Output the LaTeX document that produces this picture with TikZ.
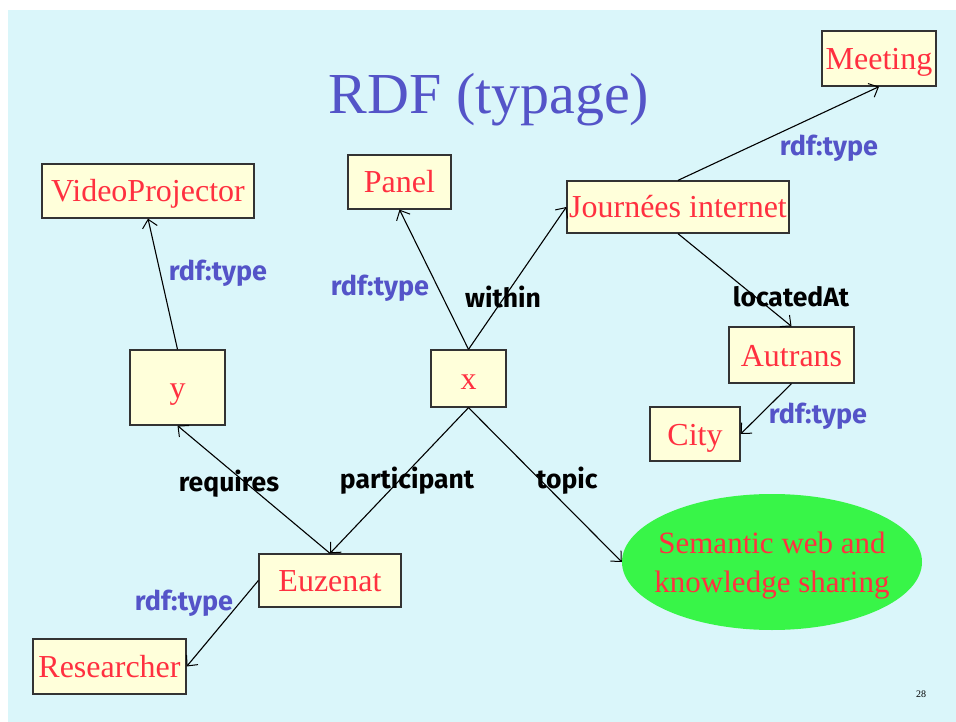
\documentclass[tikz,border=0pt]{standalone}
\usepackage{fontspec}
\setmainfont{Liberation Serif}
\newfontfamily\lblfont{Fira Sans}
\usetikzlibrary{arrows.meta,shapes.geometric}
\definecolor{slidebg}{RGB}{218,246,250}
\definecolor{boxfill}{RGB}{255,255,218}
\definecolor{boxtext}{RGB}{255,48,64}
\definecolor{titleblue}{RGB}{84,84,200}
\definecolor{ellgreen}{RGB}{56,245,72}
\tikzset{
  x=1pt, y=-1pt,
  res/.style={draw=black!80, line width=1.3pt, fill=boxfill, text=boxtext,
    font=\fontsize{32}{36}\selectfont, inner sep=0pt, anchor=center,
    text height=24pt, text depth=2pt},
  arr/.style={line width=1.1pt, -{Straight Barb[length=8pt,width=15pt,line width=1pt]}},
  typelbl/.style={text=titleblue, font=\lblfont\bfseries\fontsize{27}{30}\selectfont, inner sep=0pt},
  proplbl/.style={text=black, font=\lblfont\bfseries\fontsize{26.5}{30}\selectfont, inner sep=0pt},
}
\begin{document}
\begin{tikzpicture}
\useasboundingbox (0,0) rectangle (956,722);
\fill[white] (0,0) rectangle (956,722);
\fill[slidebg] (8,10) rectangle (956,722);

% title
\node[text=titleblue, font=\fontsize{58}{64}\selectfont] (title) at (489,100) {RDF (typage)};

% resource boxes
\node[res, minimum width=114pt, minimum height=55pt] (meet) at (879,58.5) {Meeting};
\node[res, minimum width=212pt, minimum height=54pt] (vp) at (148,191) {VideoProjector};
\node[res, minimum width=103pt, minimum height=54pt] (panel) at (399.5,182) {Panel};
\node[res, minimum width=222pt, minimum height=52pt] (jour) at (678,207) {Journées internet};
\node[res, minimum width=95pt, minimum height=75pt] (y) at (177.5,387.5) {y};
\node[res, minimum width=75pt, minimum height=57pt] (x) at (468.5,378.5) {x};
\node[res, minimum width=125pt, minimum height=56pt] (aut) at (791.5,355) {Autrans};
\node[res, minimum width=90pt, minimum height=54pt] (city) at (695,434) {City};
\node[res, minimum width=142pt, minimum height=53pt] (euz) at (330,580.5) {Euzenat};
\node[res, minimum width=153pt, minimum height=55pt] (resr) at (109.5,666.5) {Researcher};

% topic ellipse and its two-line text
\node[ellipse, fill=ellgreen, minimum width=300pt, minimum height=136pt,
  inner sep=0pt] (topic) at (772,562) {};
\node[text=boxtext, align=center, inner sep=0pt, font=\fontsize{31}{39}\selectfont]
  (topictext) at (772,566) {Semantic web and\\knowledge sharing};

% connectors
\draw[arr] (y.north) -- (vp.south);
\draw[arr] (x.north) -- (panel.south);
\draw[arr] (x.north) -- (jour.west);
\draw[arr] (jour.north) -- (meet.south);
\draw[arr] (jour.south) -- (aut.north);
\draw[arr] (aut.south) -- (city.east);
\draw[arr] (x.south) -- (euz.north);
\draw[arr] (euz.north) -- (y.south);
\draw[arr] (x.south) -- (topic.west);
\draw[arr] (euz.west) -- (resr.east);

% property labels
\node[typelbl] (l1) at (218,273) {rdf:type};
\node[typelbl] (l2) at (380,288) {rdf:type};
\node[proplbl] (l3) at (503,297) {within};
\node[typelbl] (l4) at (829,148) {rdf:type};
\node[proplbl] (l5) at (791,297) {locatedAt};
\node[typelbl] (l6) at (818,416) {rdf:type};
\node[proplbl] (l7) at (229,484) {requires};
\node[proplbl] (l8) at (407,481) {participant};
\node[proplbl] (l9) at (567,481) {topic};
\node[typelbl] (l10) at (184,603) {rdf:type};

% page number
\node[font=\fontsize{10}{12}\selectfont] (pg) at (921,694) {28};
\end{tikzpicture}
\end{document}
